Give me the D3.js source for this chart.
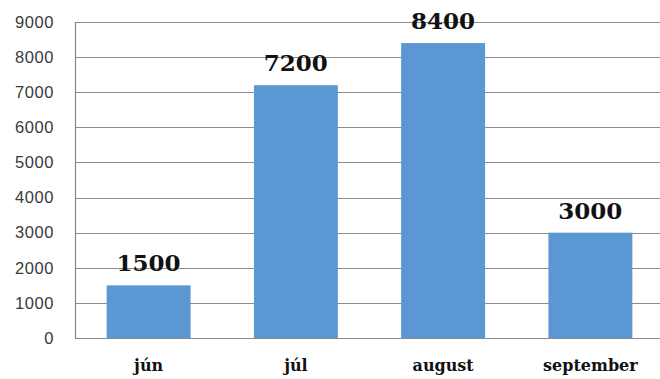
<!DOCTYPE html>
<html>
<head>
<meta charset="utf-8">
<script src="https://cdn.jsdelivr.net/npm/d3@7"></script>
<style>
  body { margin: 0; background: #fff; }
</style>
</head>
<body>
<div id="chart"></div>
<script>
const months = ["jún", "júl", "august", "september"];
const values = [1500, 7200, 8400, 3000];
const yTicks = [0, 1000, 2000, 3000, 4000, 5000, 6000, 7000, 8000, 9000];

const width = 660, height = 379;
const margin = {top: 22, right: -4, bottom: 41, left: 75};
const innerW = width - margin.left - margin.right;
const innerH = height - margin.top - margin.bottom;

const svg = d3.select("#chart")
  .append("svg")
  .attr("width", width)
  .attr("height", height);

const g = svg.append("g")
  .attr("transform", `translate(${margin.left},${margin.top})`);

const x = d3.scaleBand()
  .domain(months)
  .range([0, innerW])
  .paddingInner(0.43)
  .paddingOuter(0.215);

const y = d3.scaleLinear()
  .domain([0, 9000])
  .range([innerH, 0]);

// gridlines
g.selectAll(".grid")
  .data(yTicks)
  .join("line")
  .attr("x1", 0)
  .attr("x2", innerW)
  .attr("y1", d => Math.round(y(d)) + 0.5)
  .attr("y2", d => Math.round(y(d)) + 0.5)
  .attr("stroke", "#8c8c8c")
  .attr("stroke-width", 1.2);

// left axis line
g.append("line")
  .attr("x1", 0.5).attr("x2", 0.5)
  .attr("y1", Math.round(y(9000))).attr("y2", Math.round(y(0)) + 1)
  .attr("stroke", "#888")
  .attr("stroke-width", 1.2);

// y tick labels
const yAxis = g.append("g")
  .call(d3.axisLeft(y).tickValues(yTicks).tickSize(0).tickPadding(21).tickFormat(d3.format("d")));
yAxis.select(".domain").remove();
yAxis.selectAll("text")
  .style("font-family", "'Liberation Sans', Arial, sans-serif")
  .style("font-size", "16.5px")
  .style("letter-spacing", "0.6px")
  .attr("fill", "#3a3a3a");

// bars
g.selectAll(".bar")
  .data(values)
  .join("rect")
  .attr("x", (d, i) => x(months[i]))
  .attr("y", d => y(d))
  .attr("width", x.bandwidth())
  .attr("height", d => y(0) - y(d))
  .attr("fill", "#5b97d3");

// value labels
g.selectAll(".val")
  .data(values)
  .join("text")
  .attr("x", (d, i) => x(months[i]) + x.bandwidth() / 2)
  .attr("y", d => y(d) - 14)
  .attr("text-anchor", "middle")
  .style("font-family", "'DejaVu Serif', serif")
  .style("font-weight", "bold")
  .style("font-size", "23px")
  .attr("fill", "#111")
  .text(d => d);

// category labels
const xAxis = g.append("g")
  .attr("transform", `translate(0,${innerH})`)
  .call(d3.axisBottom(x).tickSize(0).tickPadding(22));
xAxis.select(".domain").remove();
xAxis.selectAll("text")
  .style("font-family", "'DejaVu Serif', serif")
  .style("font-weight", "bold")
  .style("font-size", "16px")
  .attr("fill", "#111");
</script>
</body>
</html>
